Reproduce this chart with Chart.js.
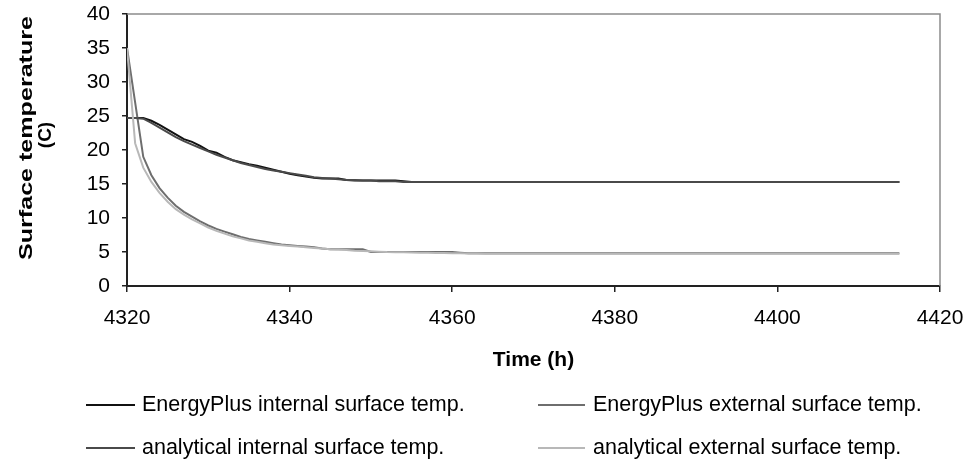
<!DOCTYPE html>
<html>
<head>
<meta charset="utf-8">
<title>Surface temperature</title>
<script src="https://cdn.jsdelivr.net/npm/chart.js@4"></script>
<style>
    html, body { margin: 0; padding: 0; background: #fff; }
    #chartBox { width: 967px; height: 461px; }
</style>
</head>
<body>
<div id="chartBox"><canvas id="surfaceChart" width="967" height="461"></canvas></div>
<script>
// Hourly time stamps (h)
const hours = [
    4320, 4321, 4322, 4323, 4324, 4325, 4326, 4327, 4328, 4329,
    4330, 4331, 4332, 4333, 4334, 4335, 4336, 4337, 4338, 4339,
    4340, 4341, 4342, 4343, 4344, 4345, 4346, 4347, 4348, 4349,
    4350, 4351, 4352, 4353, 4354, 4355, 4356, 4357, 4358, 4359,
    4360, 4361, 4362, 4363, 4364, 4365, 4366, 4367, 4368, 4369,
    4370, 4371, 4372, 4373, 4374, 4375, 4376, 4377, 4378, 4379,
    4380, 4381, 4382, 4383, 4384, 4385, 4386, 4387, 4388, 4389,
    4390, 4391, 4392, 4393, 4394, 4395, 4396, 4397, 4398, 4399,
    4400, 4401, 4402, 4403, 4404, 4405, 4406, 4407, 4408, 4409,
    4410, 4411, 4412, 4413, 4414, 4415
];

// Surface temperatures (C)
const epInternal = [
    24.7, 24.7, 24.7, 24.3, 23.7, 23.0, 22.3, 21.6, 21.2, 20.6,
    19.9, 19.6, 19.0, 18.5, 18.2, 17.9, 17.7, 17.4, 17.1, 16.8,
    16.5, 16.3, 16.1, 15.9, 15.8, 15.8, 15.8, 15.6, 15.5, 15.5,
    15.5, 15.5, 15.5, 15.5, 15.4, 15.3, 15.3, 15.3, 15.3, 15.3,
    15.3, 15.3, 15.3, 15.3, 15.3, 15.3, 15.3, 15.3, 15.3, 15.3,
    15.3, 15.3, 15.3, 15.3, 15.3, 15.3, 15.3, 15.3, 15.3, 15.3,
    15.3, 15.3, 15.3, 15.3, 15.3, 15.3, 15.3, 15.3, 15.3, 15.3,
    15.3, 15.3, 15.3, 15.3, 15.3, 15.3, 15.3, 15.3, 15.3, 15.3,
    15.3, 15.3, 15.3, 15.3, 15.3, 15.3, 15.3, 15.3, 15.3, 15.3,
    15.3, 15.3, 15.3, 15.3, 15.3, 15.3
];

const epExternal = [
    35.0, 27.0, 19.0, 16.3, 14.4, 13.0, 11.8, 10.9, 10.2, 9.5,
    8.9, 8.4, 8.0, 7.6, 7.2, 6.9, 6.7, 6.5, 6.3, 6.1,
    6.0, 5.9, 5.8, 5.7, 5.5, 5.4, 5.4, 5.4, 5.4, 5.4,
    5.0, 5.0, 5.0, 5.0, 5.0, 5.0, 5.0, 5.0, 5.0, 5.0,
    5.0, 4.9, 4.8, 4.8, 4.8, 4.8, 4.8, 4.8, 4.8, 4.8,
    4.8, 4.8, 4.8, 4.8, 4.8, 4.8, 4.8, 4.8, 4.8, 4.8,
    4.8, 4.8, 4.8, 4.8, 4.8, 4.8, 4.8, 4.8, 4.8, 4.8,
    4.8, 4.8, 4.8, 4.8, 4.8, 4.8, 4.8, 4.8, 4.8, 4.8,
    4.8, 4.8, 4.8, 4.8, 4.8, 4.8, 4.8, 4.8, 4.8, 4.8,
    4.8, 4.8, 4.8, 4.8, 4.8, 4.8
];

const anInternal = [
    24.7, 24.7, 24.6, 24.0, 23.3, 22.6, 21.9, 21.3, 20.8, 20.3,
    19.8, 19.3, 18.9, 18.5, 18.1, 17.8, 17.5, 17.2, 17.0, 16.8,
    16.6, 16.4, 16.2, 16.0, 15.9, 15.8, 15.7, 15.6, 15.6, 15.5,
    15.5, 15.4, 15.4, 15.4, 15.3, 15.3, 15.3, 15.3, 15.3, 15.3,
    15.3, 15.3, 15.3, 15.3, 15.3, 15.3, 15.3, 15.3, 15.3, 15.3,
    15.3, 15.3, 15.3, 15.3, 15.3, 15.3, 15.3, 15.3, 15.3, 15.3,
    15.3, 15.3, 15.3, 15.3, 15.3, 15.3, 15.3, 15.3, 15.3, 15.3,
    15.3, 15.3, 15.3, 15.3, 15.3, 15.3, 15.3, 15.3, 15.3, 15.3,
    15.3, 15.3, 15.3, 15.3, 15.3, 15.3, 15.3, 15.3, 15.3, 15.3,
    15.3, 15.3, 15.3, 15.3, 15.3, 15.3
];

const anExternal = [
    35.0, 21.0, 17.4, 15.3, 13.7, 12.4, 11.3, 10.5, 9.8, 9.2,
    8.6, 8.1, 7.7, 7.3, 7.0, 6.7, 6.5, 6.3, 6.1, 6.0,
    5.9, 5.8, 5.7, 5.6, 5.5, 5.4, 5.35, 5.3, 5.2, 5.15,
    5.1, 5.05, 5.0, 4.98, 4.95, 4.92, 4.9, 4.88, 4.86, 4.84,
    4.82, 4.8, 4.78, 4.77, 4.76, 4.75, 4.75, 4.75, 4.75, 4.75,
    4.75, 4.75, 4.75, 4.75, 4.75, 4.75, 4.75, 4.75, 4.75, 4.75,
    4.75, 4.75, 4.75, 4.75, 4.75, 4.75, 4.75, 4.75, 4.75, 4.75,
    4.75, 4.75, 4.75, 4.75, 4.75, 4.75, 4.75, 4.75, 4.75, 4.75,
    4.75, 4.75, 4.75, 4.75, 4.75, 4.75, 4.75, 4.75, 4.75, 4.75,
    4.75, 4.75, 4.75, 4.75, 4.75, 4.75
];

const seriesLabels = [
    'EnergyPlus internal surface temp.',
    'EnergyPlus external surface temp.',
    'analytical internal surface temp.',
    'analytical external surface temp.'
];
const seriesColors = ['#111111', '#6e6e6e', '#4a4a4a', '#b8b8b8'];

const FONT = '"Liberation Sans", Arial, sans-serif';

function toPoints(values) {
    return values.map((v, i) => ({ x: hours[i], y: v }));
}

// Gray frame on the top and right of the plot area
const framePlugin = {
    id: 'frame',
    beforeDatasetsDraw(chart) {
        const { ctx, chartArea: a } = chart;
        ctx.save();
        ctx.strokeStyle = '#8c8c8c';
        ctx.lineWidth = 1.5;
        ctx.beginPath();
        ctx.moveTo(a.left, a.top);
        ctx.lineTo(a.right, a.top);
        ctx.lineTo(a.right, a.bottom);
        ctx.stroke();
        ctx.restore();
    }
};

// Axis titles and the two-column legend
const textPlugin = {
    id: 'texts',
    afterDraw(chart) {
        const { ctx, chartArea: a } = chart;
        ctx.save();
        ctx.fillStyle = '#000';
        ctx.textAlign = 'center';
        ctx.textBaseline = 'middle';

        // x title
        ctx.font = 'bold 21px ' + FONT;
        ctx.fillText('Time (h)', (a.left + a.right) / 2, 360);

        // y title, first line stretched along its length
        ctx.font = 'bold 19px ' + FONT;
        ctx.save();
        ctx.translate(27, 138);
        ctx.rotate(-Math.PI / 2);
        const w = ctx.measureText('Surface temperature').width;
        ctx.scale(244 / w, 1);
        ctx.fillText('Surface temperature', 0, 0);
        ctx.restore();
        ctx.save();
        ctx.translate(46, 135);
        ctx.rotate(-Math.PI / 2);
        ctx.fillText('(C)', 0, 0);
        ctx.restore();

        // legend
        const cols = [{ x0: 86, x1: 135, tx: 142 }, { x0: 538, x1: 585, tx: 593 }];
        const rows = [405, 448];
        ctx.font = '21.5px ' + FONT;
        ctx.textAlign = 'left';
        chart.data.datasets.forEach((ds, i) => {
            const c = cols[i % 2];
            const y = rows[Math.floor(i / 2)];
            ctx.strokeStyle = ds.borderColor;
            ctx.lineWidth = 2;
            ctx.beginPath();
            ctx.moveTo(c.x0, y);
            ctx.lineTo(c.x1, y);
            ctx.stroke();
            ctx.fillText(ds.label, c.tx, y);
        });
        ctx.restore();
    }
};

const datasets = [epInternal, epExternal, anInternal, anExternal].map((vals, i) => ({
    label: seriesLabels[i],
    data: toPoints(vals),
    borderColor: seriesColors[i],
    borderWidth: 2,
    pointRadius: 0,
    tension: 0,
    fill: false,
    order: 4 - i
}));

const axisColor = '#222';

new Chart(document.getElementById('surfaceChart'), {
    type: 'line',
    data: { datasets },
    options: {
        responsive: false,
        devicePixelRatio: 1,
        animation: false,
        layout: { padding: { left: 0, top: 14, right: 27, bottom: 0 } },
        plugins: {
            legend: { display: false },
            tooltip: { enabled: false }
        },
        scales: {
            x: {
                type: 'linear',
                min: 4320,
                max: 4420,
                ticks: {
                    stepSize: 20,
                    color: '#000',
                    font: { family: FONT, size: 21 },
                    padding: 14,
                    maxRotation: 0,
                    callback: (v) => String(v)
                },
                grid: {
                    drawOnChartArea: false,
                    drawTicks: true,
                    tickLength: 6,
                    color: axisColor,
                    lineWidth: 1.5
                },
                border: { color: axisColor, width: 2 },
                afterFit(scale) {
                    scale.height = 175;
                    scale.paddingLeft = 0;
                    scale.paddingRight = 0;
                }
            },
            y: {
                min: 0,
                max: 40,
                ticks: {
                    stepSize: 5,
                    color: '#000',
                    font: { family: FONT, size: 21 },
                    padding: 12
                },
                grid: {
                    drawOnChartArea: false,
                    drawTicks: true,
                    tickLength: 5,
                    color: axisColor,
                    lineWidth: 1.5
                },
                border: { color: axisColor, width: 2 },
                afterFit(scale) {
                    scale.width = 127;
                    scale.paddingTop = 0;
                    scale.paddingBottom = 0;
                }
            }
        }
    },
    plugins: [framePlugin, textPlugin]
});
</script>
</body>
</html>
